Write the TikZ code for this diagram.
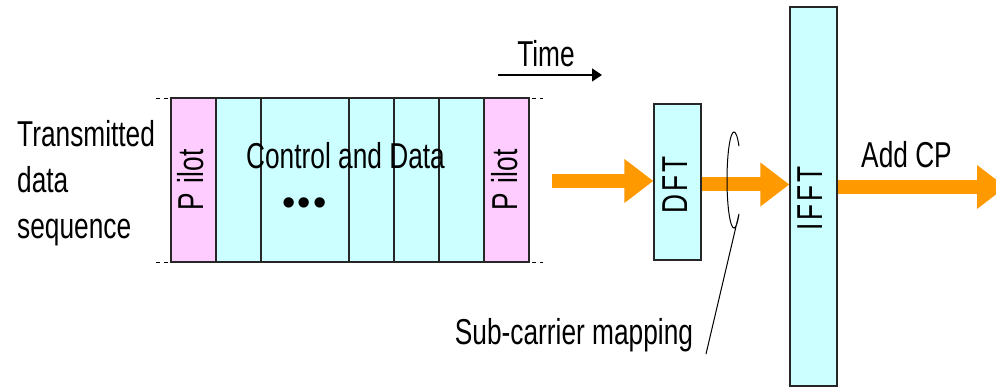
\documentclass[tikz,border=0pt]{standalone}
\usepackage{fontspec}
\setmainfont{Liberation Sans}
\newfontfamily\nf[FakeStretch=0.73]{Liberation Sans}
\usetikzlibrary{arrows.meta}
\definecolor{cellcyan}{HTML}{CCFFFF}
\definecolor{cellpink}{HTML}{FFCCFF}
\definecolor{flow}{HTML}{FF9900}
\begin{document}
\begin{tikzpicture}[x=1pt,y=1pt,
  every node/.style={font=\nf\fontsize{36}{46}\selectfont, inner sep=0pt},
  cell/.style={draw=black!85, line width=1.2pt, minimum height=164pt, anchor=center},
  cyancell/.style={cell, fill=cellcyan},
  pinkcell/.style={cell, fill=cellpink},
  block/.style={draw=black!85, line width=1.2pt, fill=cellcyan, minimum width=47pt},
  bigflow/.style={draw=flow, line width=14pt, -{Triangle[length=29pt,width=42pt]}},
  thin/.style={draw=black, line width=1pt}]
\clip (0,0) rectangle (996,387);
\fill[white] (0,0) rectangle (996,387);
% dashed frame lines
\coordinate (dl1) at (156,289);
\coordinate (dr1) at (543,289);
\coordinate (dl2) at (156,125);
\coordinate (dr2) at (543,125);
\draw[black, line width=0.8pt, dash pattern=on 4pt off 4pt] (dl1) -- (dr1);
\draw[black, line width=0.8pt, dash pattern=on 4pt off 4pt] (dl2) -- (dr2);
% cells
\node[pinkcell, minimum width=45pt] (p1) at (193.5,207) {};
\node[cyancell, minimum width=45pt] (c1) at (238.5,207) {};
\node[cyancell, minimum width=88pt] (c2) at (305,207) {};
\node[cyancell, minimum width=45pt] (c3) at (371.5,207) {};
\node[cyancell, minimum width=45pt] (c4) at (416.5,207) {};
\node[cyancell, minimum width=45pt] (c5) at (461.5,207) {};
\node[pinkcell, minimum width=45pt] (p2) at (506.5,207) {};
\node[rotate=90, anchor=base] (pl1) at (203,207) {P\hspace{10pt}ilot};
\node[rotate=90, anchor=base] (pl2) at (517,207) {P\hspace{10pt}ilot};
\node[anchor=base] (cd) at (345.5,218) {Control and Data};
\node[font=\fontsize{38}{38}\selectfont] (dots) at (304.5,180) {•\hspace{2pt}•\hspace{2pt}•};
% left label
\node[anchor=base west] (t1) at (17,240) {Transmitted};
\node[anchor=base west] (t2) at (17,194) {data};
\node[anchor=base west] (t3) at (17,148) {sequence};
% time
\node[anchor=base] (time) at (546,320) {Time};
\coordinate (ts) at (498,312);
\coordinate (te) at (602,312);
\draw[thin, line width=1.3pt, -{Triangle[length=10pt,width=13pt]}] (ts) -- (te);
% blocks
\node[block, minimum height=156pt] (dft) at (677.5,205) {};
\node[rotate=90, anchor=base] (dftl) at (687,202) {D\hspace{3pt}F\hspace{3pt}T};
\node[block, minimum height=379pt] (ifft) at (813.5,190.5) {};
\node[rotate=90, anchor=base] (ifftl) at (822,188.5) {I\hspace{3pt}F\hspace{3pt}F\hspace{3pt}T};
% flow arrows
\coordinate (a1) at (552,206);
\draw[bigflow] (a1) -- (dft.west |- a1);
\coordinate (a2) at (dft.east |- 0,202.5);
\draw[bigflow] (a2) -- (ifft.west |- a2);
\coordinate (a3) at (ifft.east |- 0,200);
\coordinate (a3e) at (1006,200);
\draw[bigflow] (a3) -- (a3e);
\node[anchor=base] (cp) at (906.5,219) {Add CP};
% sub-carrier mapping annotation
\node[anchor=base] (scm) at (574,42) {Sub-carrier mapping};
\coordinate (lead) at (706,33);
\draw[thin] (734,207) ++(45:7 and 48) arc[start angle=45, end angle=315, x radius=7, y radius=48] -- (lead);
\end{tikzpicture}
\end{document}
